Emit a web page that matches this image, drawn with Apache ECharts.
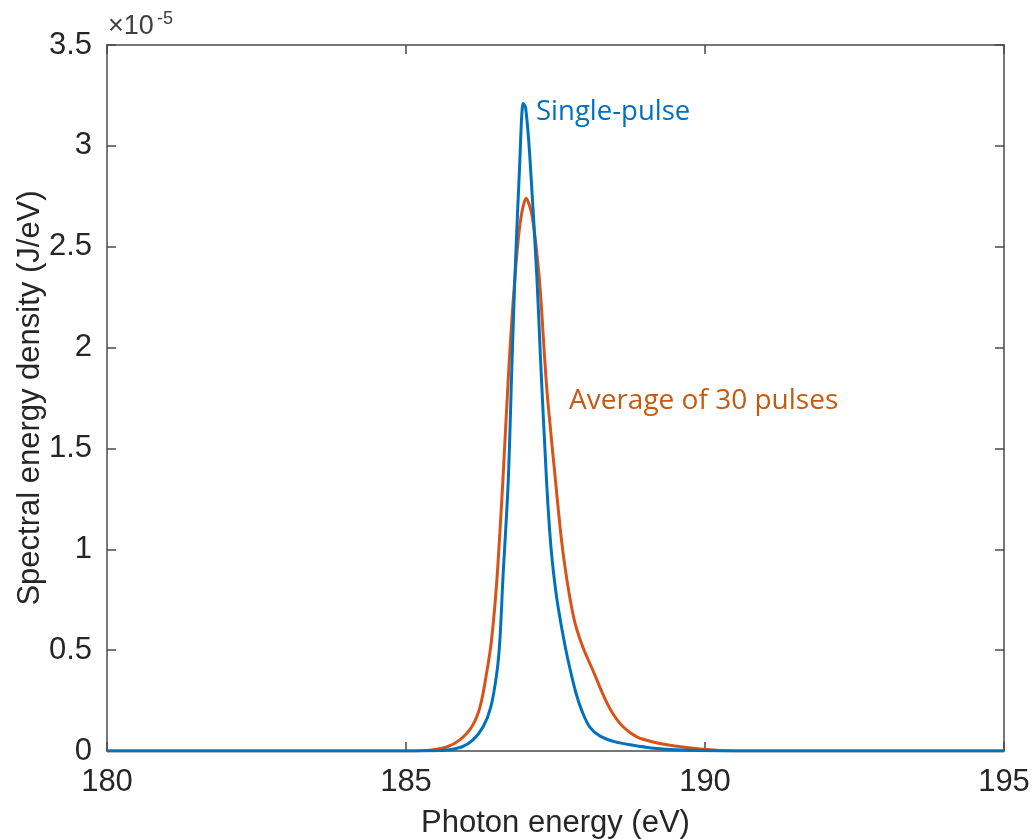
<!DOCTYPE html>
<html>
<head>
<meta charset="utf-8">
<script src="https://cdn.jsdelivr.net/npm/echarts@6/dist/echarts.min.js"></script>
<style>html,body{margin:0;padding:0;background:#fff}#c{width:1033px;height:839px}</style>
</head>
<body>
<div id="c"></div>
<script>
// Values in units of 1e-5 J/eV
const singlePulse = [
  [180, 0], [183, 0], [185, 0], [185.6, 0.002], [185.93, 0.02], [186.12, 0.055], [186.29, 0.12],
  [186.42, 0.22], [186.52, 0.39], [186.57, 0.55], [186.62, 0.85], [186.71, 1.34],
  [186.77, 1.9], [186.82, 2.34], [186.90, 2.9], [186.96, 3.21], [187.00, 3.19],
  [187.07, 2.95], [187.19, 2.34], [187.25, 1.94], [187.35, 1.34], [187.40, 1.10],
  [187.45, 0.93], [187.52, 0.76], [187.61, 0.60], [187.71, 0.45], [187.84, 0.29],
  [187.94, 0.20], [188.07, 0.12], [188.24, 0.075], [188.50, 0.045], [188.80, 0.028],
  [189.10, 0.015], [189.50, 0.006], [190.05, 0.001], [190.6, 0], [193, 0], [195, 0]
];
const averagePulses = [
  [180, 0], [183, 0], [185, 0], [185.4, 0.004], [185.68, 0.02], [185.90, 0.055], [186.10, 0.12],
  [186.24, 0.22], [186.35, 0.39], [186.43, 0.55], [186.52, 0.85], [186.62, 1.34],
  [186.72, 1.9], [186.82, 2.34], [186.91, 2.62], [187.01, 2.74], [187.11, 2.65],
  [187.23, 2.34], [187.32, 1.94], [187.37, 1.74], [187.50, 1.34], [187.58, 1.10],
  [187.65, 0.93], [187.74, 0.76], [187.83, 0.63], [187.95, 0.52], [188.05, 0.45],
  [188.14, 0.39], [188.28, 0.29], [188.43, 0.20], [188.63, 0.12], [188.86, 0.07],
  [189.13, 0.045], [189.50, 0.025], [189.92, 0.01], [190.25, 0.003], [190.75, 0],
  [193, 0], [195, 0]
];
const xTicks = [180, 185, 190, 195];
const yTicks = [0, 0.5, 1, 1.5, 2, 2.5, 3, 3.5];
const seriesNames = ['Single-pulse', 'Average of 30 pulses'];
const xLabel = 'Photon energy (eV)';
const yLabel = 'Spectral energy density (J/eV)';
const yExponent = ['\u00d710', '-5'];

const axisColor = '#4a4a4a';
const textColor = '#262626';
const font = 'Liberation Sans, Arial, sans-serif';

const chart = echarts.init(document.getElementById('c'));
const commonAxis = {
  axisLine: { show: true, onZero: false, lineStyle: { color: axisColor, width: 1.5 } },
  axisTick: { show: true, inside: true, length: 9, lineStyle: { color: axisColor, width: 1.5 } },
  splitLine: { show: false }
};
chart.setOption({
  animation: false,
  backgroundColor: '#fff',
  grid: { left: 107, right: 29, top: 45, bottom: 88, containLabel: false, outerBoundsMode: 'none' },
  xAxis: [
    Object.assign({}, commonAxis, {
      type: 'value', min: xTicks[0], max: xTicks[xTicks.length - 1], interval: 5, position: 'bottom',
      axisLabel: { color: textColor, fontSize: 31, fontFamily: font, margin: 16 },
      name: xLabel, nameLocation: 'middle', nameGap: 57, nameMoveOverlap: false,
      nameTextStyle: { color: textColor, fontSize: 31, fontFamily: font }
    }),
    Object.assign({}, commonAxis, {
      type: 'value', min: xTicks[0], max: xTicks[xTicks.length - 1], interval: 5, position: 'top',
      axisLabel: { show: false }
    })
  ],
  yAxis: [
    Object.assign({}, commonAxis, {
      type: 'value', min: yTicks[0], max: yTicks[yTicks.length - 1], interval: 0.5, position: 'left',
      axisLabel: { color: textColor, fontSize: 31, fontFamily: font, margin: 15,
        formatter: v => String(v) },
      name: yLabel, nameLocation: 'middle', nameGap: 61, nameRotate: 90, nameMoveOverlap: false,
      nameTextStyle: { color: textColor, fontSize: 31, fontFamily: font }
    }),
    Object.assign({}, commonAxis, {
      type: 'value', min: yTicks[0], max: yTicks[yTicks.length - 1], interval: 0.5, position: 'right',
      axisLabel: { show: false }
    })
  ],
  series: [
    {
      name: seriesNames[0], type: 'line', data: singlePulse, showSymbol: false,
      smooth: 0.3, lineStyle: { color: '#0072BD', width: 3 }, z: 3
    },
    {
      name: seriesNames[1], type: 'line', data: averagePulses, showSymbol: false,
      smooth: 0.3, lineStyle: { color: '#D95319', width: 3 }, z: 2
    }
  ],
  graphic: [
    {
      type: 'text', x: 108, y: 27,
      style: { text: yExponent[0], fontSize: 27, fontFamily: font, fill: '#404040', verticalAlign: 'middle' }
    },
    {
      type: 'text', x: 157, y: 19,
      style: { text: yExponent[1], fontSize: 18, fontFamily: font, fill: '#404040', verticalAlign: 'middle' }
    },
    {
      type: 'text', left: 536, top: 98,
      style: { text: seriesNames[0], fontSize: 27.5, fontFamily: 'Open Sans, sans-serif', fill: '#0070C0' }
    },
    {
      type: 'text', left: 569, top: 387,
      style: { text: seriesNames[1], fontSize: 28, fontFamily: 'Open Sans, sans-serif', fill: '#C55A11' }
    }
  ]
});
</script>
</body>
</html>
